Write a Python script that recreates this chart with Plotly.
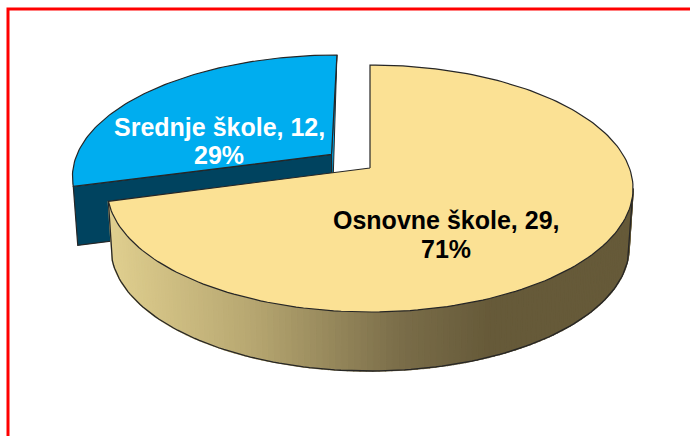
import math
import plotly.graph_objects as go

categories = ["Osnovne škole", "Srednje škole"]
values = [29, 12]
face_colors = ["#FBE194", "#00ADEF"]
text_colors = ["#000000", "#FFFFFF"]
label_pos = [(446, 220, 249), (219, 127, 155)]

# pie geometry in page pixels
CX, CY, R, H, K = 370, 168, 259.4, 120.1, 0.166
DEPTH, BOTTOM_SCALE, EXPLODE = 59, 0.985, 0.19
EDGE = "#262626"
total = sum(values)
sweep = values[0] / total * 360


def project(a_deg, r=1.0, shift=(0, 0)):
    a = math.radians(a_deg)
    u, v = r * math.sin(a) + shift[0], r * math.cos(a) + shift[1]
    s = 1 / (1 + K * v)
    return CX + R * u * s, CY - H * v * s


def lower(p):
    return CX + (p[0] - CX) * BOTTOM_SCALE, p[1] + DEPTH


def arc(a0, a1, n, shift=(0, 0)):
    return [project(a0 + (a1 - a0) * i / n, 1.0, shift) for i in range(n + 1)]


def poly(points, fill, line=None, width=1.2, close=True):
    pts = list(points) + ([points[0]] if close else [])
    fig.add_trace(go.Scatter(
        x=[p[0] for p in pts], y=[p[1] for p in pts], mode="lines",
        fill="toself" if fill else "none", fillcolor=fill,
        line=dict(color=line or fill or EDGE, width=width if line else 1.5),
        hoverinfo="skip", showlegend=False))


fig = go.Figure()

# exploded small slice
mid = math.radians(sweep + (360 - sweep) / 2)
shift = (EXPLODE * math.sin(mid), EXPLODE * math.cos(mid))
tip = project(0, 0, shift)
b_arc = arc(sweep, 360, 90, shift)
far, left = b_arc[-1], b_arc[0]
poly([far, tip, lower(tip)], face_colors[1], EDGE, 1)
poly([tip, left, lower(left), lower(tip)], "#00435F", EDGE, 1.2)
poly([tip] + b_arc, face_colors[1], EDGE, 1.2)

# gradient rim of the big slice
STOPS = [(108, (224, 207, 143)), (250, (183, 167, 113)), (400, (122, 109, 73)), (490, (102, 90, 57)), (640, (102, 90, 57))]


def rim_color(x):
    for (x0, c0), (x1, c1) in zip(STOPS, STOPS[1:]):
        if x <= x1:
            t = max(0, (x - x0) / (x1 - x0))
            return "rgb(%d,%d,%d)" % tuple(round(a + (b - a) * t) for a, b in zip(c0, c1))
    return "rgb(102,90,57)"


rim_start = math.degrees(math.acos(-K))
rim = arc(rim_start, sweep, 130)
for p, q in zip(rim, rim[1:]):
    poly([p, q, lower(q), lower(p)], rim_color((p[0] + q[0]) / 2))
poly([rim[0]] + [lower(p) for p in rim] + [rim[-1]], None, EDGE, 1.3, close=False)

# top face of the big slice
poly([project(0, 0)] + arc(0, sweep, 180), face_colors[0], EDGE, 1.2)

# red frame, open to the page's right and bottom edges
fig.add_trace(go.Scatter(x=[8, 8, 690], y=[436, 9, 9], mode="lines",
                         line=dict(color="#FF0000", width=3),
                         hoverinfo="skip", showlegend=False))

for name, val, col, pos in zip(categories, values, text_colors, label_pos):
    pct = round(val / total * 100)
    for line_text, y in ((f"{name}, {val},", pos[1]), (f"{pct}%", pos[2])):
        fig.add_annotation(x=pos[0], y=y, xref="x", yref="y", showarrow=False,
                           text=f"<b>{line_text}</b>",
                           font=dict(family="Liberation Sans", size=25, color=col))

fig.update_layout(
    width=690, height=436, margin=dict(l=0, r=0, t=0, b=0),
    paper_bgcolor="white", plot_bgcolor="white", showlegend=False,
    xaxis=dict(range=[0, 690], visible=False, fixedrange=True),
    yaxis=dict(range=[436, 0], visible=False, fixedrange=True),
)
fig.write_html("out.html", config=dict(displayModeBar=False),
               post_script="document.body.style.margin='0';document.body.style.overflow='hidden';")
